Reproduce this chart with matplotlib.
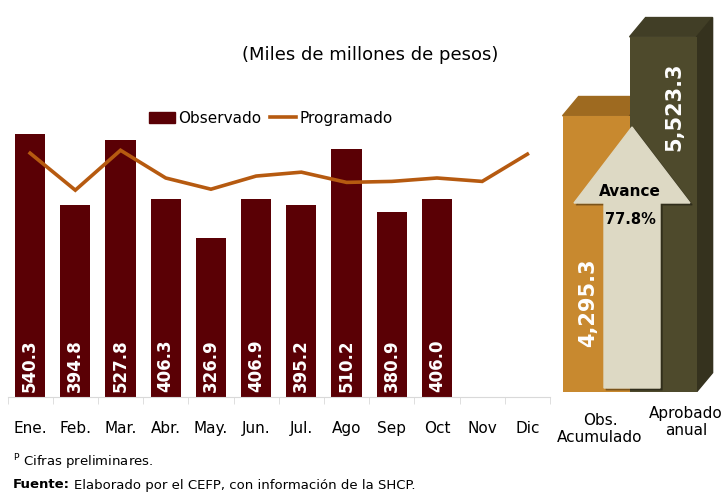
import matplotlib
matplotlib.use("Agg")
import matplotlib.pyplot as plt
from matplotlib.patches import Patch, Polygon
from matplotlib.lines import Line2D

# Data (miles de millones de pesos)
meses = ['Ene.', 'Feb.', 'Mar.', 'Abr.', 'May.', 'Jun.', 'Jul.', 'Ago', 'Sep', 'Oct', 'Nov', 'Dic']
observado = [540.3, 394.8, 527.8, 406.3, 326.9, 406.9, 395.2, 510.2, 380.9, 406.0]
programado = [501, 425, 507, 450, 427, 454, 462, 441, 443, 450, 443, 499]
resumen_labels = ['Obs.\nAcumulado', 'Aprobado\nanual']
resumen_vals = [4295.3, 5523.3]

BAR = '#5A0005'
LINE = '#B65A10'
W, H = 726, 495

plt.rcParams['font.family'] = ['DejaVu Sans']
fig = plt.figure(figsize=(W / 100, H / 100), dpi=100)

def fx(px):
    return px / W

def fy(py):
    return 1 - py / H

# ---- left panel: monthly bars + programmed line
ax = fig.add_axes([fx(7.5), fy(397), 542.5 / W, 292 / H])
x = list(range(len(meses)))
ax.bar(x[:len(observado)], observado, width=0.67, color=BAR, zorder=2)
ax.plot(x, programado, color=LINE, lw=2.6, zorder=3, solid_joinstyle='miter')
for i, v in enumerate(observado):
    ax.text(i, 10, f"{v:.1f}", rotation=90, ha='center', va='bottom',
            color='white', fontweight='bold', fontsize=12, zorder=4)

ax.set_xlim(-0.5, len(meses) - 0.5)
ax.set_ylim(0, 600)
ax.set_xticks(x)
ax.set_xticklabels(meses, fontsize=11)
ax.set_xticks([i - 0.5 for i in range(len(meses) + 1)], minor=True)
ax.tick_params(axis='x', which='major', length=0, pad=17)
ax.tick_params(axis='x', which='minor', length=5, color='#D9D9D9')
ax.set_yticks([])
for s in ['top', 'right', 'left']:
    ax.spines[s].set_visible(False)
ax.spines['bottom'].set_color('#D9D9D9')

handles = [Patch(color=BAR), Line2D([], [], color=LINE, lw=2.6)]
ax.legend(handles, ['Observado', 'Programado'], loc='center',
          bbox_to_anchor=(0.485, 0.955), ncol=2, frameon=False, fontsize=11,
          handlelength=1.7, handletextpad=0.2, columnspacing=0.6)

fig.text(fx(370), fy(55), '(Miles de millones de pesos)', ha='center',
         va='center', fontsize=13)

# ---- right panel: 3D-like cumulative bars
ax2 = fig.add_axes([fx(550), fy(392), 176 / W, 392 / H])
ax2.set_xlim(-0.687, 1.94)
ax2.set_ylim(0, 6096)
ax2.axis('off')
front = ['#C8892F', '#4E4A2C']
top = ['#9E6A20', '#413E26']
side = ['#7A5218', '#35321E']
dx, dy = 0.24, 300
bw = 1.0
for i, v in enumerate(resumen_vals):
    l, r = i - bw / 2, i + bw / 2
    ax2.add_patch(Polygon([(l, v), (r, v), (r + dx, v + dy), (l + dx, v + dy)],
                          closed=True, color=top[i], zorder=2 + 2 * i))
    ax2.add_patch(Polygon([(r, 0), (r + dx, dy), (r + dx, v + dy), (r, v)],
                          closed=True, color=side[i], zorder=2 + 2 * i))
    ax2.bar(i, v, width=bw, color=front[i], zorder=3 + 2 * i)

# arrow "Avance"
arrow_px = [(604, 388), (604, 203), (574, 203), (632, 127), (690, 203),
            (660, 203), (660, 388)]
fig.patches.append(Polygon([(fx(px) + 0.003, fy(py) - 0.004) for px, py in arrow_px],
                           closed=True, color='#000000', alpha=0.25,
                           transform=fig.transFigure, zorder=8))
fig.patches.append(Polygon([(fx(px), fy(py)) for px, py in arrow_px], closed=True,
                           color='#DDD9C4', transform=fig.transFigure, zorder=9))
avance = resumen_vals[0] / resumen_vals[1] * 100
fig.text(fx(630), fy(192), 'Avance', ha='center', va='center',
         fontsize=11, fontweight='bold', zorder=10)
fig.text(fx(630), fy(219), f"{avance:.1f}%", ha='center', va='center',
         fontsize=10.5, fontweight='bold', zorder=10)

fig.text(fx(588), fy(303), f"{resumen_vals[0]:,.1f}", rotation=90, ha='center',
         va='center', color='white', fontsize=15, fontweight='bold', zorder=10)
fig.text(fx(674), fy(107), f"{resumen_vals[1]:,.1f}", rotation=90, ha='center',
         va='center', color='white', fontsize=15, fontweight='bold', zorder=10)

fig.text(fx(600), fy(429), resumen_labels[0], ha='center', va='center',
         fontsize=11, linespacing=1.2)
fig.text(fx(686), fy(422), resumen_labels[1], ha='center', va='center',
         fontsize=11, linespacing=1.2)

# ---- notes
fig.text(fx(13), fy(462), r'$^{\mathrm{P}}$ Cifras preliminares.', ha='left',
         va='center', fontsize=9.5)
t = fig.text(fx(13), fy(485), 'Fuente:', ha='left', va='center', fontsize=9.5,
             fontweight='bold')
bb = t.get_window_extent(renderer=fig.canvas.get_renderer())
fig.text(fx(bb.x1 + 4), fy(485), 'Elaborado por el CEFP, con información de la SHCP.',
         ha='left', va='center', fontsize=9.5)

fig.savefig('out.png', dpi=100)
